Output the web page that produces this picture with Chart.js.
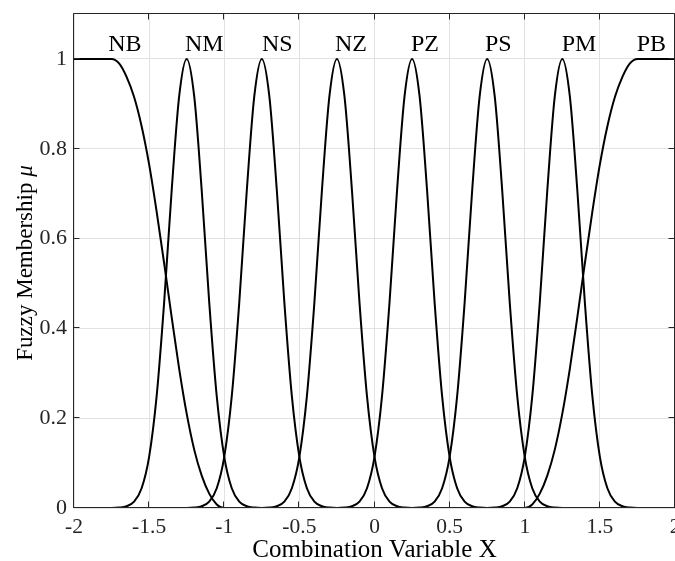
<!DOCTYPE html>
<html><head><meta charset="utf-8">
<script src="https://cdn.jsdelivr.net/npm/chart.js@4.4.1/dist/chart.umd.min.js"></script>
<style>html,body{margin:0;padding:0;background:#fff;overflow:hidden}canvas{display:block}</style>
</head><body>
<canvas id="c" width="675" height="561"></canvas>
<script>
// ---- data ----
const xGrid = [
 -2,-1.95,-1.9,-1.85,-1.8,-1.75,-1.7,-1.65,-1.6,-1.55,
 -1.5,-1.45,-1.4,-1.35,-1.3,-1.25,-1.2,-1.15,-1.1,-1.05,
 -1,-0.95,-0.9,-0.85,-0.8,-0.75,-0.7,-0.65,-0.6,-0.55,
 -0.5,-0.45,-0.4,-0.35,-0.3,-0.25,-0.2,-0.15,-0.1,-0.05,
 0,0.05,0.1,0.15,0.2,0.25,0.3,0.35,0.4,0.45,
 0.5,0.55,0.6,0.65,0.7,0.75,0.8,0.85,0.9,0.95,
 1,1.05,1.1,1.15,1.2,1.25,1.3,1.35,1.4,1.45,
 1.5,1.55,1.6,1.65,1.7,1.75,1.8,1.85,1.9,1.95,
 2];
const muNB = [
 1,1,1,1,1,1,0.99,0.96,0.915,0.85,
 0.765,0.66,0.545,0.425,0.31,0.21,0.13,0.072,0.032,0.008,
 0,0,0,0,0,0,0,0,0,0,
 0,0,0,0,0,0,0,0,0,0,
 0,0,0,0,0,0,0,0,0,0,
 0,0,0,0,0,0,0,0,0,0,
 0,0,0,0,0,0,0,0,0,0,
 0,0,0,0,0,0,0,0,0,0,
 0];
const muNM = [
 0,0,0,0,0,0,0.001,0.004,0.014,0.044,
 0.114,0.249,0.458,0.707,0.917,1,0.917,0.707,0.458,0.249,
 0.114,0.044,0.014,0.004,0.001,0,0,0,0,0,
 0,0,0,0,0,0,0,0,0,0,
 0,0,0,0,0,0,0,0,0,0,
 0,0,0,0,0,0,0,0,0,0,
 0,0,0,0,0,0,0,0,0,0,
 0,0,0,0,0,0,0,0,0,0,
 0];
const muNS = [
 0,0,0,0,0,0,0,0,0,0,
 0,0,0,0,0,0,0.001,0.004,0.014,0.044,
 0.114,0.249,0.458,0.707,0.917,1,0.917,0.707,0.458,0.249,
 0.114,0.044,0.014,0.004,0.001,0,0,0,0,0,
 0,0,0,0,0,0,0,0,0,0,
 0,0,0,0,0,0,0,0,0,0,
 0,0,0,0,0,0,0,0,0,0,
 0,0,0,0,0,0,0,0,0,0,
 0];
const muNZ = [
 0,0,0,0,0,0,0,0,0,0,
 0,0,0,0,0,0,0,0,0,0,
 0,0,0,0,0,0,0.001,0.004,0.014,0.044,
 0.114,0.249,0.458,0.707,0.917,1,0.917,0.707,0.458,0.249,
 0.114,0.044,0.014,0.004,0.001,0,0,0,0,0,
 0,0,0,0,0,0,0,0,0,0,
 0,0,0,0,0,0,0,0,0,0,
 0,0,0,0,0,0,0,0,0,0,
 0];
const muPZ = [
 0,0,0,0,0,0,0,0,0,0,
 0,0,0,0,0,0,0,0,0,0,
 0,0,0,0,0,0,0,0,0,0,
 0,0,0,0,0,0,0.001,0.004,0.014,0.044,
 0.114,0.249,0.458,0.707,0.917,1,0.917,0.707,0.458,0.249,
 0.114,0.044,0.014,0.004,0.001,0,0,0,0,0,
 0,0,0,0,0,0,0,0,0,0,
 0,0,0,0,0,0,0,0,0,0,
 0];
const muPS = [
 0,0,0,0,0,0,0,0,0,0,
 0,0,0,0,0,0,0,0,0,0,
 0,0,0,0,0,0,0,0,0,0,
 0,0,0,0,0,0,0,0,0,0,
 0,0,0,0,0,0,0.001,0.004,0.014,0.044,
 0.114,0.249,0.458,0.707,0.917,1,0.917,0.707,0.458,0.249,
 0.114,0.044,0.014,0.004,0.001,0,0,0,0,0,
 0,0,0,0,0,0,0,0,0,0,
 0];
const muPM = [
 0,0,0,0,0,0,0,0,0,0,
 0,0,0,0,0,0,0,0,0,0,
 0,0,0,0,0,0,0,0,0,0,
 0,0,0,0,0,0,0,0,0,0,
 0,0,0,0,0,0,0,0,0,0,
 0,0,0,0,0,0,0.001,0.004,0.014,0.044,
 0.114,0.249,0.458,0.707,0.917,1,0.917,0.707,0.458,0.249,
 0.114,0.044,0.014,0.004,0.001,0,0,0,0,0,
 0];
const muPB = [
 0,0,0,0,0,0,0,0,0,0,
 0,0,0,0,0,0,0,0,0,0,
 0,0,0,0,0,0,0,0,0,0,
 0,0,0,0,0,0,0,0,0,0,
 0,0,0,0,0,0,0,0,0,0,
 0,0,0,0,0,0,0,0,0,0,
 0,0.008,0.032,0.072,0.13,0.21,0.31,0.425,0.545,0.66,
 0.765,0.85,0.915,0.96,0.99,1,1,1,1,1,
 1];
const seriesNames = ['NB','NM','NS','NZ','PZ','PS','PM','PB'];
const seriesValues = [muNB,muNM,muNS,muNZ,muPZ,muPS,muPM,muPB];
const labelX = [-1.772,-1.261,-0.749,-0.263,0.243,0.735,1.246,1.745];
const labelY = [1.0165,1.0165,1.0165,1.0165,1.0165,1.0165,1.0165,1.0165];
const xTicks = [-2,-1.5,-1,-0.5,0,0.5,1,1.5,2];
const xTickLabels = ['-2','-1.5','-1','-0.5','0','0.5','1','1.5','2'];
const yTicks = [0,0.2,0.4,0.6,0.8,1];
const yTickLabels = ['0','0.2','0.4','0.6','0.8','1'];
const xTitle = 'Combination Variable X';
const yTitleText = 'Fuzzy Membership ';
const yTitleSymbol = 'μ';

const SERIF = "'Liberation Serif','Times New Roman',serif";
const AXIS_COLOR = '#262626';
const GRID_COLOR = '#e2e2e2';

const datasets = seriesNames.map((name, k) => ({
  label: name,
  data: xGrid.map((x, i) => ({x: x, y: seriesValues[k][i]})),
  borderColor: '#000',
  borderWidth: 2,
  pointRadius: 0,
  fill: false,
  cubicInterpolationMode: 'monotone'
}));

const framePlugin = {
  id: 'frame',
  afterDatasetsDraw(chart) {
    const {ctx, chartArea: a, scales: {x, y}} = chart;
    ctx.save();
    ctx.strokeStyle = AXIS_COLOR;
    ctx.lineWidth = 1;
    const L = Math.round(a.left) - 0.5, R = Math.round(a.right) - 0.5;
    const T = Math.round(a.top) - 0.5, B = Math.round(a.bottom) - 0.5;
    ctx.beginPath();
    ctx.moveTo(L, T); ctx.lineTo(R, T); ctx.lineTo(R, B); ctx.lineTo(L, B); ctx.closePath();
    const tl = 6;
    xTicks.forEach(v => {
      const p = Math.round(x.getPixelForValue(v)) - 0.5;
      ctx.moveTo(p, B); ctx.lineTo(p, B - tl);
      ctx.moveTo(p, T); ctx.lineTo(p, T + tl);
    });
    yTicks.forEach(v => {
      const p = Math.round(y.getPixelForValue(v)) - 0.5;
      ctx.moveTo(L, p); ctx.lineTo(L + tl, p);
      ctx.moveTo(R, p); ctx.lineTo(R - tl, p);
    });
    ctx.stroke();
    // curve names
    ctx.fillStyle = '#000';
    ctx.font = '24px ' + SERIF;
    ctx.textAlign = 'left';
    ctx.textBaseline = 'alphabetic';
    seriesNames.forEach((n, k) => {
      ctx.fillText(n, x.getPixelForValue(labelX[k]), y.getPixelForValue(labelY[k]));
    });
    ctx.restore();
  },
  afterDraw(chart) {
    const {ctx, chartArea: a} = chart;
    ctx.save();
    ctx.fillStyle = '#000';
    const fN = '23px ' + SERIF, fI = 'italic 23px ' + SERIF;
    ctx.font = fN; const w1 = ctx.measureText(yTitleText).width;
    ctx.font = fI; const w2 = ctx.measureText(yTitleSymbol).width;
    const cy = (a.top + a.bottom) / 2 + 2;
    ctx.translate(32, cy);
    ctx.rotate(-Math.PI / 2);
    ctx.textAlign = 'left';
    ctx.textBaseline = 'alphabetic';
    const start = -(w1 + w2) / 2;
    ctx.font = fN; ctx.fillText(yTitleText, start, 0);
    ctx.font = fI; ctx.fillText(yTitleSymbol, start + w1, 0);
    ctx.restore();
  }
};

new Chart(document.getElementById('c'), {
  type: 'line',
  data: {datasets},
  options: {
    responsive: false,
    animation: false,
    devicePixelRatio: 1,
    layout: {padding: {top: 14, right: 0, bottom: 0, left: 0}},
    plugins: {legend: {display: false}, tooltip: {enabled: false}},
    scales: {
      x: {
        type: 'linear', min: -2, max: 2,
        afterBuildTicks: s => { s.ticks = xTicks.map(v => ({value: v})); },
        afterFit: s => { s.height = 53; s.paddingLeft = 0; s.paddingRight = 0; },
        ticks: {
          autoSkip: false, maxRotation: 0, padding: 6, color: '#262626',
          font: {family: SERIF, size: 21.5},
          callback: v => xTickLabels[xTicks.indexOf(v)]
        },
        grid: {color: GRID_COLOR, lineWidth: 1, drawTicks: false},
        border: {display: false},
        title: {display: true, text: xTitle, color: '#000',
                font: {family: SERIF, size: 25, lineHeight: 0.85}, padding: 0}
      },
      y: {
        type: 'linear', min: 0, max: 1.1,
        afterBuildTicks: s => { s.ticks = yTicks.map(v => ({value: v})); },
        afterFit: s => { s.width = 74; s.paddingTop = 0; s.paddingBottom = 0; },
        ticks: {
          autoSkip: false, padding: 7, color: '#262626',
          font: {family: SERIF, size: 22},
          callback: v => yTickLabels[yTicks.indexOf(v)]
        },
        grid: {color: GRID_COLOR, lineWidth: 1, drawTicks: false},
        border: {display: false}
      }
    }
  },
  plugins: [framePlugin]
});
</script>
</body></html>
